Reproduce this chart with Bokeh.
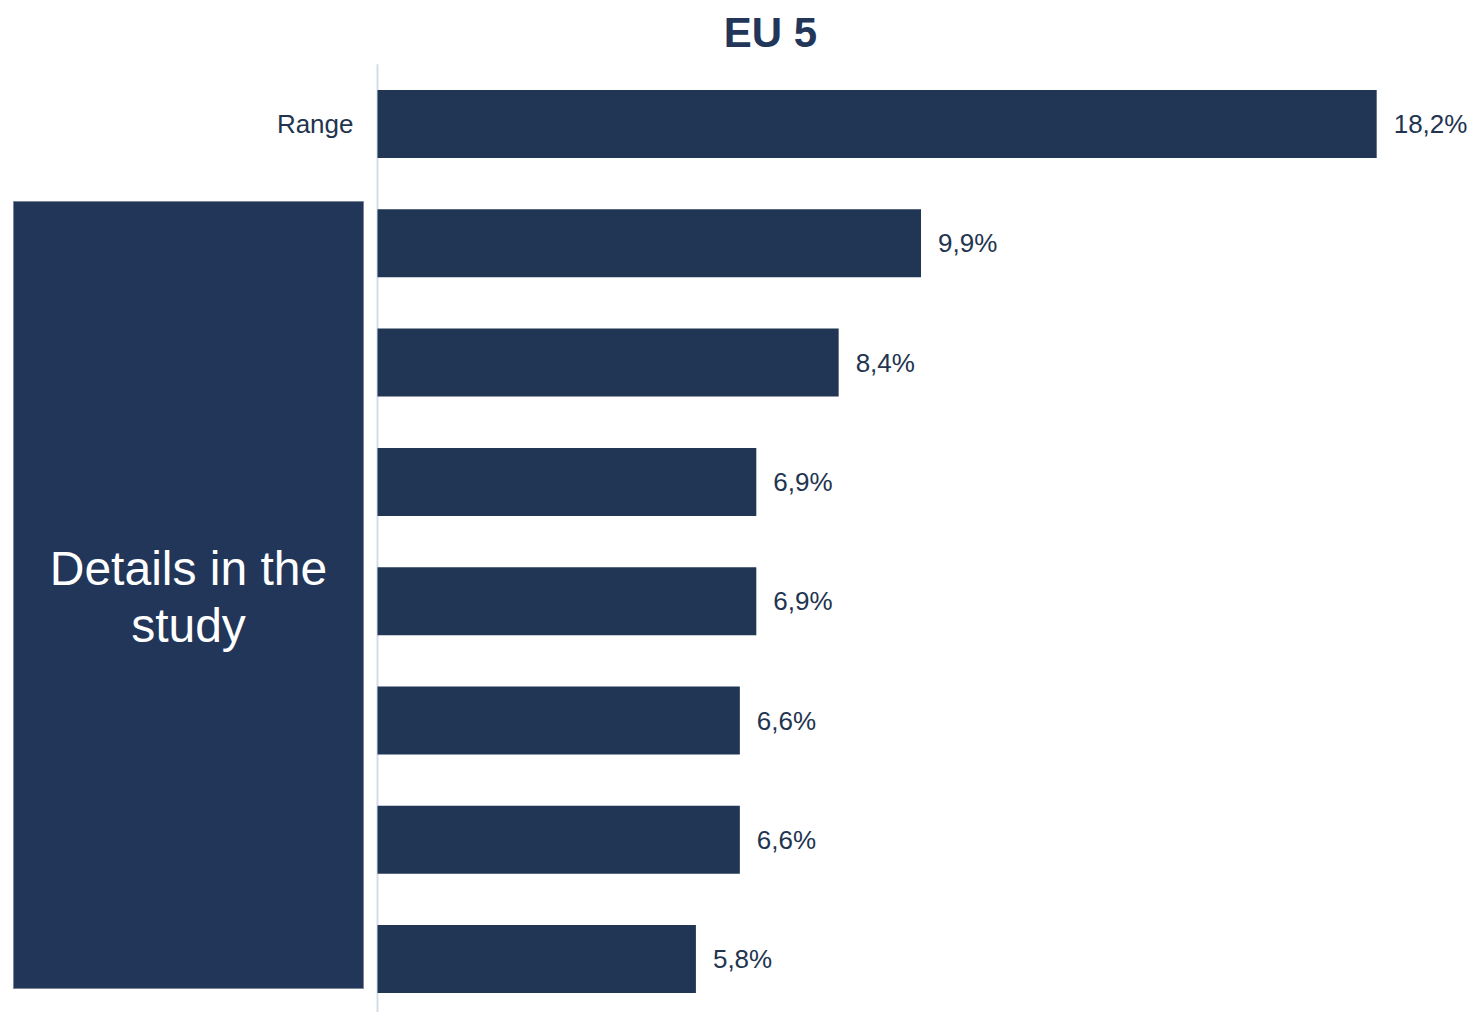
from bokeh.plotting import figure
from bokeh.models import Range1d
from bokeh.core.properties import value
from bokeh.embed import file_html
from bokeh.resources import INLINE

# ---- data ----
categories = ["Range", "", "", "", "", "", "", ""]
values = [18.2, 9.9, 8.4, 6.9, 6.9, 6.6, 6.6, 5.8]
value_labels = ["18,2%", "9,9%", "8,4%", "6,9%", "6,9%", "6,6%", "6,6%", "5,8%"]
title_text = "EU 5"
box_text = "Details in the\nstudy"

# ---- layout constants (pixels) ----
W, H = 1473, 1012
AXIS_PX = 377          # pixel x of value 0
PX_PER_UNIT_X = 54.9   # pixels per percent
ROW_PX = 119.3         # pixels per category row
FIRST_ROW_PX = 123.5   # pixel y of first category centre

x_start = -AXIS_PX / PX_PER_UNIT_X
x_end = (W - AXIS_PX) / PX_PER_UNIT_X
y_top = -FIRST_ROW_PX / ROW_PX
y_bottom = y_top + H / ROW_PX


def px2x(px):
    return x_start + px / PX_PER_UNIT_X


def px2y(py):
    return y_top + py / ROW_PX


DARK = "#213654"
TEXT = "#22344f"
FONT = value("Liberation Sans")

p = figure(width=W, height=H, output_backend="svg", toolbar_location=None,
           x_range=Range1d(x_start, x_end), y_range=Range1d(y_bottom, y_top),
           min_border=0, min_border_left=0, min_border_right=0,
           min_border_top=0, min_border_bottom=0)
p.axis.visible = False
p.grid.visible = False
p.outline_line_color = None
p.background_fill_color = "white"
p.border_fill_color = "white"

idx = list(range(len(values)))

# axis line
p.segment(x0=[0], x1=[0], y0=[-0.5], y1=[len(values) - 0.5 + 1],
          line_color="#d3dcea", line_width=2)

# bars
p.hbar(y=idx, left=0, right=values, height=0.57, fill_color=DARK, line_color=None)

# value labels
p.text(x=values, y=idx, text=value_labels, x_offset=17, text_baseline="middle",
       text_align="left", text_font=FONT, text_font_size="26px", text_color=TEXT)

# category labels
p.text(x=[0] * len(categories), y=idx, text=categories, x_offset=-24,
       text_baseline="middle", text_align="right", text_font=FONT,
       text_font_size="26px", text_color=TEXT)

# overlay box
p.quad(left=[px2x(13)], right=[px2x(363)], top=[px2y(201)], bottom=[px2y(988)],
       fill_color="#22365a", line_color="#7b8596", line_width=1)
p.text(x=[px2x(188)], y=[px2y(596.5)], text=[box_text], text_align="center",
       text_baseline="middle", text_font=FONT, text_font_size="48px",
       text_color="white", text_line_height=1.06)

# title
p.text(x=[px2x(770)], y=[px2y(32)], text=[title_text], text_align="center",
       text_baseline="middle", text_font=FONT, text_font_size="42px",
       text_font_style="bold", text_color="#22365a")

open("out.html", "w").write(file_html(p, INLINE))
